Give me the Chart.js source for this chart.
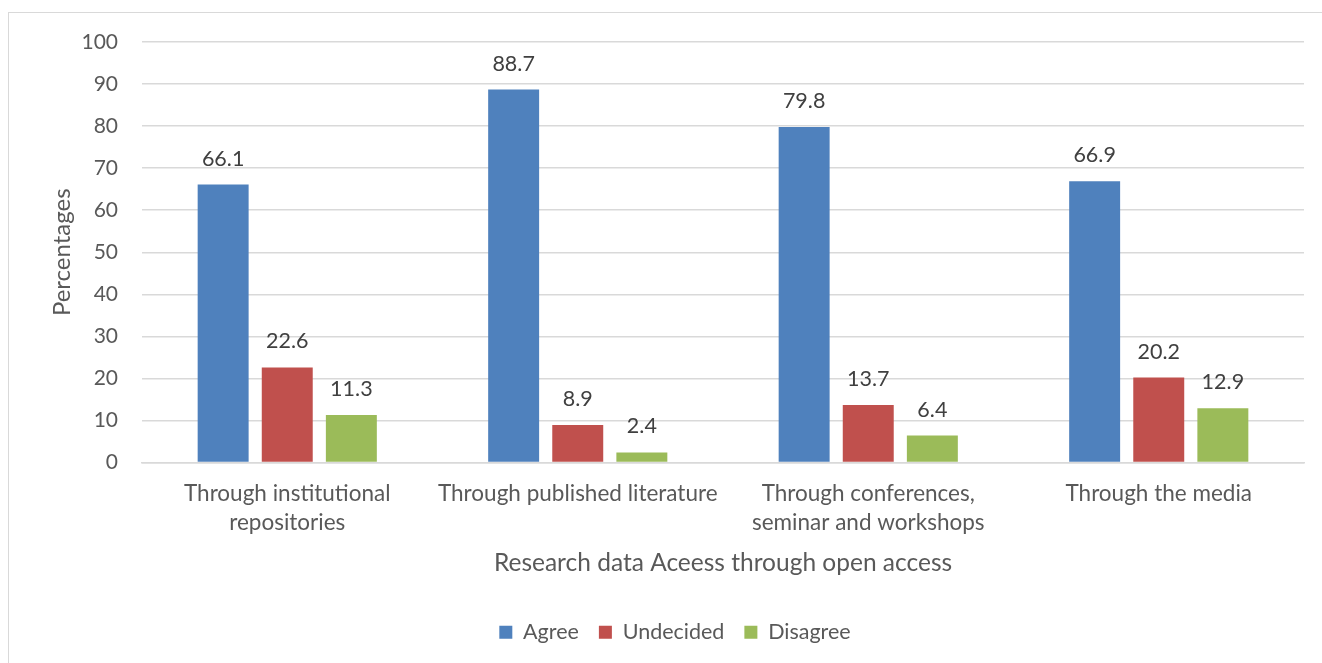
<!DOCTYPE html>
<html>
<head>
<meta charset="utf-8">
<script src="https://cdn.jsdelivr.net/npm/chart.js@4"></script>
<style>
  html, body { margin: 0; padding: 0; background: #ffffff; }
  #wrap { position: relative; width: 1322px; height: 663px; overflow: hidden; }
  #frame { position: absolute; left: 8px; top: 12px; width: 1330px; height: 670px;
           border: 1.5px solid #d9d9d9; box-sizing: border-box; }
  canvas { position: absolute; left: 0; top: 0; }
</style>
</head>
<body>
<div id="wrap">
  <div id="frame"></div>
  <canvas id="chart" width="1322" height="663"></canvas>
</div>
<script>
// Survey responses on research data access through open access (%)
const categories = [
  ["Through institutional", "repositories"],
  "Through published literature",
  ["Through conferences,", "seminar and workshops"],
  "Through the media"
];
const agree = [66.1, 88.7, 79.8, 66.9];
const undecided = [22.6, 8.9, 13.7, 20.2];
const disagree = [11.3, 2.4, 6.4, 12.9];
const yTicks = [0, 10, 20, 30, 40, 50, 60, 70, 80, 90, 100];

const FONT = "Lato, 'Open Sans', sans-serif";
const TEXT = "#595959";

// Writes each bar's value just above it
const valueLabels = {
  id: "valueLabels",
  afterDatasetsDraw(chart) {
    const ctx = chart.ctx;
    ctx.save();
    ctx.font = "21.5px " + FONT;
    ctx.fillStyle = "#404040";
    ctx.textAlign = "center";
    ctx.textBaseline = "alphabetic";
    chart.data.datasets.forEach((ds, i) => {
      chart.getDatasetMeta(i).data.forEach((bar, j) => {
        ctx.fillText(ds.data[j].toFixed(1), bar.x, bar.y - 19);
      });
    });
    ctx.restore();
  }
};

// Centres the legend row under the plot area rather than the whole canvas
const legendShift = {
  id: "legendShift",
  afterLayout(chart) {
    const lg = chart.legend;
    if (lg) { lg.left += 23; lg.right += 23; }
  }
};

new Chart(document.getElementById("chart"), {
  type: "bar",
  data: {
    labels: categories,
    datasets: [
      { label: "Agree", data: agree, backgroundColor: "#4F81BD" },
      { label: "Undecided", data: undecided, backgroundColor: "#C0504D" },
      { label: "Disagree", data: disagree, backgroundColor: "#9BBB59" }
    ]
  },
  options: {
    responsive: false,
    animation: false,
    categoryPercentage: 0.662,
    barPercentage: 0.795,
    layout: { padding: { left: 0, right: 18, top: 42, bottom: 10 } },
    plugins: {
      legend: {
        position: "bottom",
        labels: {
          boxWidth: 13, boxHeight: 13, padding: 20,
          color: TEXT, font: { family: FONT, size: 21.5 }
        }
      },
      tooltip: { enabled: false }
    },
    scales: {
      x: {
        grid: { display: false, drawTicks: false },
        border: { color: "#d9d9d9", width: 1.5 },
        ticks: { color: TEXT, font: { family: FONT, size: 22.5, lineHeight: 1.29 }, padding: 17, maxRotation: 0 },
        title: {
          display: true, text: "Research data Aceess through open access",
          color: TEXT, font: { family: FONT, size: 24.5 }, padding: { top: 10, bottom: 24 }
        },
        afterFit(scale) { scale.height = 139; }
      },
      y: {
        min: 0, max: 100,
        afterBuildTicks(scale) { scale.ticks = yTicks.map(v => ({ value: v })); },
        grid: { color: "#d9d9d9", lineWidth: 1.5, drawTicks: false },
        border: { display: false },
        ticks: { color: TEXT, font: { family: FONT, size: 21 }, padding: 24 },
        title: {
          display: true, text: "Percentages",
          color: TEXT, font: { family: FONT, size: 24 }, padding: { top: 48, bottom: 10 }
        },
        afterFit(scale) { scale.width = 142; }
      }
    }
  },
  plugins: [valueLabels, legendShift]
});
</script>
</body>
</html>
